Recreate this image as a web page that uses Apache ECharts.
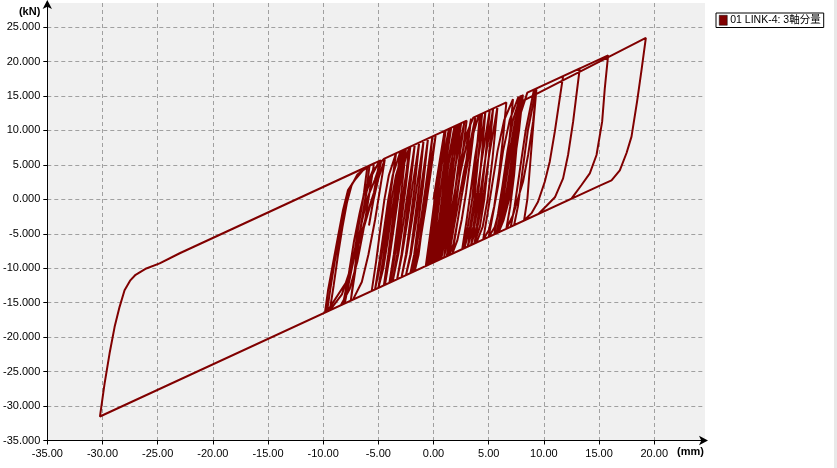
<!DOCTYPE html>
<html><head><meta charset="utf-8">
<script src="https://cdn.jsdelivr.net/npm/echarts@6/dist/echarts.min.js"></script>
<style>html,body{margin:0;padding:0;background:#fff}#c{width:837px;height:468px}</style>
</head><body><div id="c"></div>
<script>
const seriesName = '01 LINK-4: 3軸分量';
const xUnit = '(mm)', yUnit = '(kN)';
const xMin = -35, xMax = 24.6, xStep = 5;
const yMin = -35, yMax = 28.5, yStep = 5;
const xTicks = [-35, -30, -25, -20, -15, -10, -5, 0, 5, 10, 15, 20];
const yTicks = [-35, -30, -25, -20, -15, -10, -5, 0, 5, 10, 15, 20, 25];

// hysteresis path (mm, kN), in drawing order
const centerLoops = [
  [0,0],[0.5,5],[1.0,9.94],
  [0.6,5],[0.2,0],[-0.2,-5],[-0.7,-9.67],
  [-0.3,-5],[0.1,0],[0.5,5],[1.1,10.01],
  [0.7,5],[0.35,0],[-0.05,-5],[-0.5,-9.52],
  [-0.1,-5],[0.3,0],[0.75,5],[1.4,10.24],
  [0.95,5],[0.55,0],[0.15,-5],[-0.3,-9.37],
  [0.1,-5],[0.5,0],[0.95,5],[1.6,10.38],
  [1.1,5],[0.75,0],[0.35,-5],[-0.1,-9.22],
  [0.3,-5],[0.8,0],[1.25,5],[1.9,10.61],
  [1.35,5],[0.95,0],[0.5,-5],[0.1,-9.08],
  [0.45,-5],[0.9,0],[1.35,5],[2.1,10.75],
  [1.6,5],[1.15,0],[0.7,-5],[0.3,-8.93],
  [0.65,-5],[1.1,0],[1.55,5],[2.3,10.9],
  [1.8,5],[1.4,0],[0.95,-5],[0.5,-8.78],
  [0.85,-5],[1.3,0],[1.75,5],[2.5,11.05],
  [2.0,5],[1.6,0],[1.15,-5],[0.7,-8.63],
  [1.05,-5],[1.5,0],[2.0,5],[2.8,11.27],
  [2.25,5],[1.85,0],[1.4,-5],[0.95,-8.45]
];
const rightLoops = [
  [1.35,-4],[1.8,0],[2.3,4.5],[3.0,9.5],[3.6,11.86],[4.2,12.31],
  [3.85,6],[3.5,0],[3.1,-4],[2.6,-7.23],
  [3.0,-3],[3.35,1],[3.75,6],[4.4,12.46],
  [4.05,6],[3.7,0],[3.3,-4],[2.8,-7.08],
  [3.2,-3],[3.6,1],[4.05,6],[4.7,12.68],
  [4.35,6],[4.0,0],[3.6,-4],[3.1,-6.86],
  [3.5,-3],[3.95,1],[4.4,6],[5.1,12.97],
  [4.7,6],[4.3,0],[3.9,-4],[3.4,-6.63],
  [3.8,-3],[4.25,1],[4.7,6],[5.4,13.2],
  [5.0,6],[4.6,0],[4.2,-4],[3.7,-6.41],
  [4.1,-3],[4.55,1],[5.0,6],[5.8,13.49],
  [5.35,6],[4.9,0],[4.45,-4],[3.9,-6.26],
  [-4.5,-12.48]
];
const leftLoops = [
  [-4.1,-8],[-3.7,-3],[-3.3,2],[-2.8,7.13],
  [-3.15,2],[-3.55,-3],[-3.95,-8],[-4.4,-12.41],
  [-3.95,-8],[-3.5,-3],[-3.05,2],[-2.5,7.35],
  [-2.85,2],[-3.2,-3],[-3.6,-8],[-4.0,-12.11],
  [-3.55,-8],[-3.1,-3],[-2.65,2],[-2.1,7.65],
  [-2.5,2],[-2.9,-3],[-3.3,-8],[-3.7,-11.89],
  [-3.2,-8],[-2.7,-3],[-2.25,2],[-1.7,7.94],
  [-2.1,2],[-2.5,-3],[-2.9,-8],[-3.3,-11.59],
  [-2.85,-8],[-2.35,-3],[-1.9,2],[-1.3,8.24],
  [-1.7,2],[-2.1,-3],[-2.5,-8],[-2.9,-11.3],
  [-2.45,-8],[-1.95,-3],[-1.5,2],[-0.9,8.53],
  [-1.3,2],[-1.7,-3],[-2.1,-8],[-2.5,-11.0],
  [-2.05,-8],[-1.55,-3],[-1.1,2],[-0.5,8.83],
  [-0.95,2],[-1.35,-3],[-1.75,-8],[-2.1,-10.7],
  [-1.65,-8],[-1.15,-3],[-0.7,2],[-0.1,9.13],
  [-0.55,2],[-0.95,-3],[-1.35,-8],[-1.7,-10.41],
  [-1.25,-6],[-0.8,-1],[-0.35,4],[0.2,9.35],
  [-0.25,4],[-0.7,-1],[-1.2,-6],[-1.9,-10.56]
];
const leftMidLoops = [
  [-5.6,-13.29],
  [-5.2,-9],[-4.8,-4],[-4.45,0],[-4.05,3.5],[-3.4,6.68],
  [-3.8,2],[-4.15,-2],[-4.5,-6],[-4.9,-10],[-5.3,-13.07],
  [-4.9,-9],[-4.45,-4],[-4.1,0],[-3.7,3.5],[-3.0,6.98],
  [-3.4,2],[-3.8,-2],[-4.15,-6],[-4.55,-10],[-5.0,-12.85],
  [-4.6,-9],[-4.15,-4],[-3.8,0],[-3.4,3.5],[-2.7,7.2],
  [-3.1,2],[-3.5,-2.5],
  [-3.2,1],[-2.8,4.5],[-2.2,7.57],
  [-2.6,2],[-3.0,-2.5],[-3.4,-7],[-3.9,-12.04]
];
const farLeftLoops = [
  [-9.84,-16.43],
  [-9.56,-13.2],[-9.11,-9.3],[-8.66,-5.4],[-8.2,-1.55],[-7.75,1.35],[-7.14,2.8],[-6.4,4.2],[-5.63,5.03],
  [-4.8,5.65],
  [-5.2,2],[-5.6,-1.5],[-5.85,-3.8],
  [-5.5,-0.5],[-5.0,3],[-4.4,5.94],
  [-4.8,2],[-5.3,-3],[-5.9,-8],[-6.5,-12],[-7.3,-14.55],[-8.05,-15.11],
  [-7.44,-10.3],[-6.84,-5.9],[-6.39,-2.5],[-5.94,0.38],[-5.33,2.8],[-4.72,5.71],
  [-5.3,1.5],[-6.3,-4],[-7.3,-9],[-8.3,-13.8],[-9.4,-16.11],
  [-9.05,-12.5],[-8.65,-8],[-8.25,-4],[-7.85,-0.5],[-7.4,2.2],[-6.6,4.0],[-5.8,4.91],
  [-6.1,1],[-6.5,-3],[-6.9,-7],[-7.2,-11],[-7.5,-14.7],
  [-7.1,-10.5],[-6.8,-6.5],[-6.45,-2.5],[-6.05,1.2],[-5.55,3.6],[-4.9,5.57],
  [-5.4,1],[-6.2,-3],[-7.0,-7.5],[-7.9,-12],[-9.65,-16.3],
  [-9.35,-13],[-8.95,-9],[-8.5,-5],[-8.05,-1.5],[-7.6,1.5],[-6.9,3.6],[-6.0,4.76],
  [-6.3,1],[-6.7,-3],[-7.1,-7],[-7.6,-11],[-8.2,-15.22],
  [-7.7,-11],[-7.2,-6],[-6.7,-2],[-6.2,1.5],[-5.5,4.2],[-4.5,5.87],[3.0,11.42]
];
const midLoops = [
  [2.5,5],[2.1,0],[1.65,-5],[1.2,-8.26],
  [1.6,-4],[2.0,0],[2.45,4],[3.0,8],[3.4,11.72],
  [3.0,6],[2.6,1],[2.2,-3],[1.8,-6.5],[1.4,-8.11],
  [1.85,-4],[2.3,0],[2.75,4],[3.3,8],[3.8,12.01],
  [3.35,6],[2.95,1],[2.55,-3],[2.15,-6],[1.7,-7.89],
  [2.1,-4],[2.5,0],[2.95,4],[3.5,9],[4.1,12.23],[6.6,14.08],
  [6.3,9],[5.95,4],[5.5,-1],[5.0,-4.5],[4.5,-5.82],
  [4.9,-2],[5.3,2],[5.8,7],[6.4,11.5],[7.2,14.53],
  [6.9,9],[6.5,4],[6.05,-1],[5.55,-4],[5.0,-5.45],
  [5.4,-2],[5.85,2],[6.3,7],[6.9,11.5],[7.7,14.9],
  [7.4,9],[7.0,4],[6.55,-1],[6.0,-4],[5.5,-5.08],
  [5.85,-2],[6.25,2],[6.7,7],[7.2,11.5],[7.9,15.05],
  [7.55,10],[7.15,5],[6.7,0],[6.25,-3],[5.7,-4.93],
  [6.05,-2],[6.45,2],[6.9,7],[7.4,11.5],[8.1,15.19],
  [7.75,10],[7.3,5],[6.85,0],[6.35,-3],[5.9,-4.78]
];
const rightBranches = [
  [6.25,-2],[6.7,2],[7.2,7],[7.8,12],[8.5,15.49],[13.25,19.0],
  [12.95,15.16],[12.65,11.28],[12.19,6.44],[11.74,3.05],[11.0,0.3],[10.2,-1.0],[9.5,-2.12],
  [7.0,-3.97],
  [7.35,-1],[7.8,4],[8.35,10],[9.1,15.93],[15.82,20.91],
  [15.52,16.13],[15.28,11.28],[14.77,6.44],[14.16,3.78],[13.41,2.08],[12.5,0.1],
  [7.3,-3.75],
  [7.65,-1],[8.05,4],[8.55,10],[9.3,16.08],[11.74,17.89],
  [11.44,14.68],[10.99,9.83],[10.53,5.47],[10.08,2.56],[9.47,-0.35],[8.88,-2.0],[8.2,-3.08],
  [8.5,0],[8.8,6],[9.05,11],[9.33,16.1],
  [9.02,11.28],[8.57,6.44],[8.11,2.56],[7.66,0.15],[7.2,-2.3],[6.6,-4.27],
  [6.95,-1],[7.3,3.5],[7.6,9],[8.0,15.12],
  [7.66,11.28],[7.36,7.41],[7.0,2.5],[6.5,-1.5],[5.8,-4.86]
];
const outerLoop = [
  [6.2,-1],[6.7,4],[7.3,9.5],[8.1,14.3],[19.24,23.44],
  [18.85,18.8],[18.45,14.27],[17.94,9.1],[17.49,6.73],[16.88,4.2],[16.13,2.75],[15.07,2.0],
  [-30.23,-31.52],
  [-29.81,-26.74],[-29.36,-22.38],[-28.9,-18.5],[-28.45,-15.6],[-28.0,-13.2],[-27.5,-11.8],[-27.0,-10.95],
  [-26.03,-10.03],[-24.82,-9.3],[-23.0,-7.82],[-5.4,5.2],
  [-5.8,1],[-6.3,-4],[-6.9,-9],[-7.6,-13],[-8.4,-15.37]
];

const pathData = [].concat(centerLoops, rightLoops, leftLoops, leftMidLoops, farLeftLoops, midLoops, rightBranches, outerLoop);

const font = 'Liberation Sans, Arial, Noto Sans CJK JP, sans-serif';

const chart = echarts.init(document.getElementById('c'), null, {renderer: 'canvas'});
chart.setOption({
  animation: false,
  backgroundColor: '#ffffff',
  grid: {left: 47, right: 132, top: 3, bottom: 27.5, show: true, backgroundColor: '#f0f0f0', borderWidth: 0},
  legend: {
    left: 716, top: 13, orient: 'vertical',
    padding: [2, 3, 2, 3], borderColor: '#000', borderWidth: 1, backgroundColor: '#fff', borderRadius: 0,
    itemWidth: 8, itemHeight: 10, icon: 'rect',
    textStyle: {fontFamily: font, fontSize: 10.5, color: '#000', padding: [0, 0, 0, -2]},
    data: [{name: seriesName, itemStyle: {color: '#800000', borderColor: '#000', borderWidth: 0.5}}]
  },
  xAxis: {
    type: 'value', min: xMin, max: xMax, interval: xStep,
    name: xUnit, nameLocation: 'end', nameGap: -1, nameMoveOverlap: false,
    nameTextStyle: {fontFamily: font, fontSize: 11, fontWeight: 'bold', color: '#000', align: 'right', verticalAlign: 'top', padding: [6, 0, 0, 0]},
    axisLine: {onZero: false, lineStyle: {color: '#000', width: 1}, symbol: ['none', 'arrow'], symbolSize: [7, 9], symbolOffset: [0, 3]},
    axisTick: {show: true, length: 4, lineStyle: {color: '#000'}, customValues: xTicks},
    axisLabel: {fontFamily: font, fontSize: 11, color: '#000', margin: 8, customValues: xTicks,
      formatter: v => v.toFixed(2)},
    splitLine: {show: true, lineStyle: {color: '#a0a0a0', type: [4, 3], width: 1}}
  },
  yAxis: {
    type: 'value', min: yMin, max: yMax, interval: yStep,
    name: yUnit, nameLocation: 'end', nameGap: -9, nameMoveOverlap: false,
    nameTextStyle: {fontFamily: font, fontSize: 11, fontWeight: 'bold', color: '#000', align: 'right', verticalAlign: 'middle', padding: [0, 7, 0, 0]},
    axisLine: {onZero: false, lineStyle: {color: '#000', width: 1}, symbol: ['none', 'arrow'], symbolSize: [7, 9], symbolOffset: [0, 3]},
    axisTick: {show: true, length: 4, lineStyle: {color: '#000'}, customValues: yTicks},
    axisLabel: {fontFamily: font, fontSize: 11, color: '#000', margin: 7, customValues: yTicks,
      formatter: v => v.toFixed(3)},
    splitLine: {show: true, lineStyle: {color: '#a0a0a0', type: [4, 3], width: 1}}
  },
  graphic: [{type: 'rect', right: 0, top: 0, shape: {width: 3, height: 468}, style: {fill: '#e8e8e8'}}],
  series: [{
    name: seriesName, type: 'line', data: pathData, showSymbol: false, symbol: 'none',
    lineStyle: {color: '#800000', width: 2}, itemStyle: {color: '#800000'}, z: 3
  }]
});
</script></body></html>
